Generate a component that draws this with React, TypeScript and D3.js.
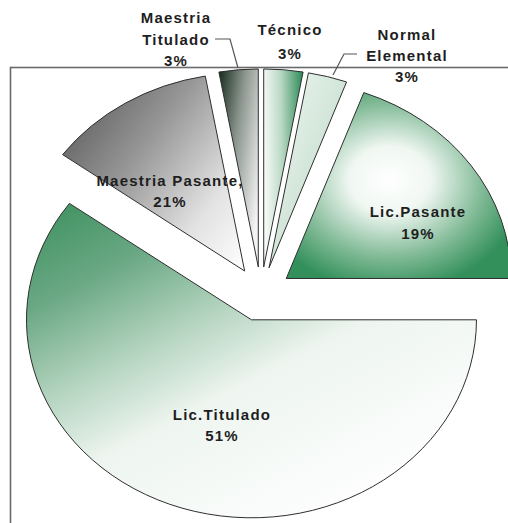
import { useRef, useEffect } from 'react';
import * as d3 from 'd3';

// slices clockwise from 12 o'clock
const categories = ['Técnico', 'Normal Elemental', 'Lic.Pasante', 'Lic.Titulado', 'Maestria Pasante', 'Maestria Titulado'];
// slice sizes as drawn (the printed labels below don't add up to the drawn angles)
const values = [2.8, 2.8, 19.4, 60, 12.2, 2.8];
const pctLabels = ['3%', '3%', '19%', '51%', '21%', '3%'];
const labelLines = [
  ['Técnico'],
  ['Normal', 'Elemental'],
  ['Lic.Pasante'],
  ['Lic.Titulado'],
  ['Maestria Pasante,'],
  ['Maestria', 'Titulado'],
];

const W = 508;
const H = 523;
const cx = 261;
const cy = 294;
const rx = 225;
const ry = 198;
const explode = 0.137;

// label placement: centre x, first baseline, line step
const labelPos = [
  { x: 290, y: 35, step: 24 },
  { x: 407, y: 40, step: 21 },
  { x: 418, y: 217, step: 22 },
  { x: 222, y: 420, step: 21 },
  { x: 170, y: 186, step: 21 },
  { x: 176, y: 23, step: 21.5 },
];
const leaders: Record<number, [number, number][]> = {
  1: [[333, 75], [344, 54], [357, 54]],
  5: [[215, 39], [230, 39], [238, 68]],
};

const gradients = [
  { id: 'g0', type: 'linear', x1: 0, y1: 0.3, x2: 1, y2: 0.2, stops: [['0', '#f6faf7'], ['0.45', '#b9d8c4'], ['1', '#2f8d58']] },
  { id: 'g1', type: 'linear', x1: 0, y1: 0, x2: 1, y2: 1, stops: [['0', '#f1f7f3'], ['0.5', '#d3e6da'], ['1', '#a3c8b0']] },
  { id: 'g2', type: 'radial', cx: 0.46, cy: 0.47, r: 0.6, stops: [['0', '#ffffff'], ['0.3', '#f0f7f2'], ['0.68', '#84bc99'], ['1', '#33905b']] },
  { id: 'g3', type: 'linear', x1: 0, y1: 0, x2: 0.75, y2: 1, stops: [['0', '#3a8f5d'], ['0.22', '#6aa884'], ['0.42', '#b4d4bf'], ['0.6', '#eef5f0'], ['1', '#ffffff']] },
  { id: 'g4', type: 'linear', x1: 0, y1: 0.2, x2: 1, y2: 1, stops: [['0', '#5e5e5e'], ['0.35', '#979797'], ['0.72', '#e2e2e2'], ['1', '#ffffff']] },
  { id: 'g5', type: 'linear', x1: 0, y1: 0, x2: 1, y2: 0.7, stops: [['0', '#142a1c'], ['0.45', '#8a948d'], ['1', '#f4f4f4']] },
];

export default function App() {
  const ref = useRef<SVGSVGElement | null>(null);

  useEffect(() => {
    const svg = d3.select(ref.current);
    svg.selectAll('*').remove();

    const defs = svg.append('defs');
    gradients.forEach((g: any) => {
      const grad =
        g.type === 'linear'
          ? defs.append('linearGradient').attr('x1', g.x1).attr('y1', g.y1).attr('x2', g.x2).attr('y2', g.y2)
          : defs.append('radialGradient').attr('cx', g.cx).attr('cy', g.cy).attr('r', g.r);
      grad.attr('id', g.id);
      g.stops.forEach((s: string[]) => grad.append('stop').attr('offset', s[0]).attr('stop-color', s[1]));
    });

    // plot area frame
    svg
      .append('rect')
      .attr('x', 10.5)
      .attr('y', 67.5)
      .attr('width', 700)
      .attr('height', 700)
      .attr('fill', 'none')
      .attr('stroke', '#6a6a6a')
      .attr('stroke-width', 1.6);

    const pie = d3.pie<number>().sort(null).value(d => d);
    const arcs = pie(values);
    const arc = d3.arc<d3.PieArcDatum<number>>().innerRadius(0).outerRadius(rx);

    const g = svg.append('g').attr('transform', `translate(${cx},${cy}) scale(1,${ry / rx})`);
    g.selectAll('path')
      .data(arcs)
      .join('path')
      .attr('d', arc)
      .attr('transform', d => {
        const mid = (d.startAngle + d.endAngle) / 2;
        return `translate(${explode * rx * Math.sin(mid)},${-explode * rx * Math.cos(mid)})`;
      })
      .attr('fill', (_d, i) => `url(#g${i})`)
      .attr('stroke', '#2e2e2e')
      .attr('stroke-width', 1)
      .attr('vector-effect', 'non-scaling-stroke')
      .attr('stroke-linejoin', 'round');

    // leader lines
    Object.values(leaders).forEach(pts => {
      svg
        .append('path')
        .attr('d', d3.line()(pts))
        .attr('fill', 'none')
        .attr('stroke', '#555')
        .attr('stroke-width', 1.2);
    });

    // data labels
    categories.forEach((_c, i) => {
      const p = labelPos[i];
      const lines = [...labelLines[i], pctLabels[i]];
      const t = svg
        .append('text')
        .attr('text-anchor', 'middle')
        .attr('font-family', '"Liberation Sans", Arial, sans-serif')
        .attr('font-weight', 'bold')
        .attr('font-size', 15)
        .attr('letter-spacing', 1.2)
        .attr('fill', '#1e1e1e');
      lines.forEach((ln, j) => {
        t.append('tspan').attr('x', p.x).attr('y', p.y + j * p.step).text(ln);
      });
    });
  }, []);

  return (
    <svg
      ref={ref}
      width={W}
      height={H}
      style={{ position: 'absolute', left: 0, top: 0, display: 'block', background: '#fff' }}
    />
  );
}
